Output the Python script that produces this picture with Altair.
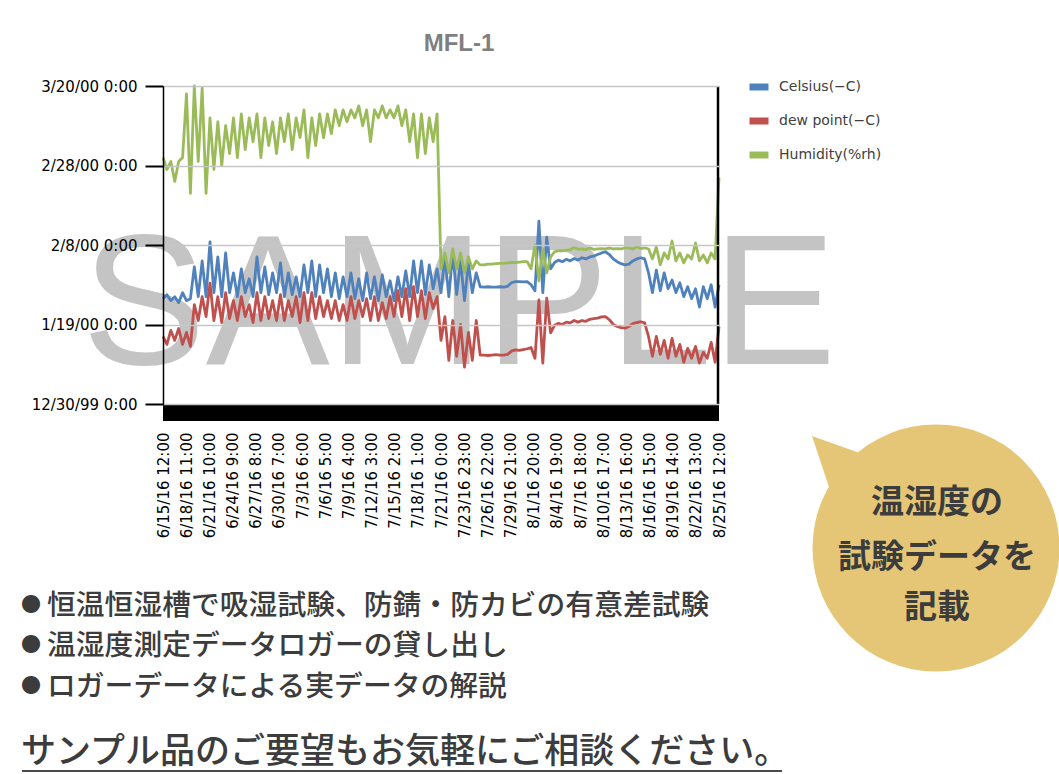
import altair as alt
import pandas as pd

# ---------------- data ----------------
x_labels = ["6/15/16 12:00", "6/18/16 11:00", "6/21/16 10:00", "6/24/16 9:00", "6/27/16 8:00",
            "6/30/16 7:00", "7/3/16 6:00", "7/6/16 5:00", "7/9/16 4:00", "7/12/16 3:00",
            "7/15/16 2:00", "7/18/16 1:00", "7/21/16 0:00", "7/23/16 23:00", "7/26/16 22:00",
            "7/29/16 21:00", "8/1/16 20:00", "8/4/16 19:00", "8/7/16 18:00", "8/10/16 17:00",
            "8/13/16 16:00", "8/16/16 15:00", "8/19/16 14:00", "8/22/16 13:00", "8/25/16 12:00"]
y_labels = ["12/30/99 0:00", "1/19/00 0:00", "2/8/00 0:00", "2/28/00 0:00", "3/20/00 0:00"]
y_ticks = [0, 20, 40, 60, 80]

series_names = ["Celsius(\u2212C)", "dew point(\u2212C)", "Humidity(%rh)"]
series_colors = ["#4f81bd", "#c0504d", "#9bbb59"]

# one reading every 12 hours from 6/15/16 12:00
celsius = [
    26.5, 27.5, 26, 27, 25.5, 28, 26, 26.5, 34.5, 27,
    36, 27, 40.8, 28, 37, 27, 38, 28, 33, 27,
    34, 28, 31.5, 27, 37, 28, 34.5, 27.5, 33, 28,
    35.5, 27, 33, 27.5, 32, 27, 35, 28, 36, 27,
    35, 28, 34, 27, 33, 26.5, 32, 27, 33, 26.5,
    31.5, 26, 33, 26.5, 32, 26, 32.5, 27, 31, 26,
    32, 27, 33.5, 27, 36, 28, 36, 27.5, 35, 29,
    34, 28, 37, 27, 38, 27.5, 36, 26, 35.5, 28,
    33, 29.5, 29.4, 29.5, 29.4, 29.4, 29.5, 29.4, 29.6, 30.5,
    30.8, 30.8, 30.7, 30.8, 30, 28.5, 46, 28, 42, 34,
    35.6, 36.2, 35.8, 36.4, 36.0, 36.6, 36.2, 36.8, 36.5, 37.0,
    37.2, 37.6, 38.0, 38.3, 37.6, 36.5, 35.8, 35.3, 35.0, 35.2,
    36.0, 36.5, 36.8, 36.5, 33, 28, 33.7, 28.5, 33, 29,
    31.2, 28, 30.5, 27, 29.5, 26.5, 29, 24.4, 29.5, 26.5,
    30, 24.4, 30,
]
dew_point = [
    17, 15, 18.5, 16, 19, 15, 18, 14.5, 25, 21,
    27, 22, 30.4, 21, 27, 20.5, 28, 21.5, 26, 21,
    27, 22, 25, 20.5, 28, 21, 27, 21.5, 26, 21,
    27.5, 21, 26, 22, 27, 20.5, 28, 21, 28, 21.5,
    27, 22, 26, 21.5, 26, 21, 25, 21, 27, 21.5,
    26, 22, 26.5, 21, 27, 21, 25.5, 21.5, 27, 22,
    28.5, 22, 29, 21, 29.5, 22, 28.5, 21.5, 28, 24,
    27, 16, 22, 11, 21, 12, 20, 9.3, 18, 11,
    21, 12.3, 12.3, 12.2, 12.3, 12.4, 12.3, 12.3, 12.5, 13.3,
    13.6, 13.5, 13.7, 13.9, 14.2, 11.5, 26.2, 10.3, 26.6, 17.9,
    19.8, 20.3, 20.0, 20.6, 20.4, 21.0, 20.6, 21.0, 20.8, 21.3,
    21.5, 21.6, 21.9, 22.0, 21.2, 20.0, 19.5, 19.2, 19.1, 19.5,
    20.2, 20.5, 20.7, 20.4, 17, 12, 17, 12.5, 16, 11.5,
    16.5, 12, 15, 10.5, 14, 11.5, 14.5, 10.3, 13, 11.5,
    15.5, 10.5, 19.5,
]
humidity = [
    62, 59, 61, 56, 61, 62, 78, 53, 80, 61,
    79.5, 53, 72, 59, 71, 60, 70, 63, 72, 62,
    73, 64, 72, 66, 73, 62, 72, 65, 71, 63,
    72, 66, 73, 64, 72, 67, 74, 62, 72, 65,
    73, 67, 73, 68, 74, 70, 74, 71, 74, 72,
    75, 70, 74, 66, 74, 72, 75, 72, 74, 72,
    75, 70, 74, 66, 73, 62, 73, 63, 72, 66,
    73, 34, 38, 33, 39, 34, 38, 33, 37, 34,
    36, 35, 35, 35.2, 35.2, 35.3, 35.4, 35.4, 35.5, 35.6,
    35.6, 35.7, 35.8, 35.8, 34, 40, 31, 39, 33, 37,
    38.3, 38.6, 38.5, 38.7, 38.8, 39.4, 38.9, 39.0, 38.8, 39.3,
    38.9, 39.0, 39.1, 39.0, 39.2, 39.0, 39.1, 39.0, 39.3, 39.2,
    39.0, 39.6, 39.1, 39.3, 39.0, 36.5, 39.5, 35, 38, 36.5,
    41, 36, 38, 35.5, 37.5, 36.5, 40.5, 36, 37.5, 35.5,
    38, 36.5, 57,
]

title_text = "MFL-1"
watermark_text = "SAMPLE"
bubble_lines = ["温湿度の", "試験データを", "記載"]
bullet_lines = ["恒温恒湿槽で吸湿試験、防錆・防カビの有意差試験",
                "温湿度測定データロガーの貸し出し",
                "ロガーデータによる実データの解説"]
footer_text = "サンプル品のご要望もお気軽にご相談ください。"

# ---------------- build table ----------------
rows = []
for name, vals in zip(series_names, [celsius, dew_point, humidity]):
    for i, v in enumerate(vals):
        rows.append({"day": i * 0.5, "value": v, "series": name})
df = pd.DataFrame(rows)

W, H = 556, 318
OX, OY = 163, 86  # plot origin on page
n_x = len(x_labels) - 1
x_ticks = [k * 71 / n_x for k in range(len(x_labels))]
x_expr = "[" + ",".join("'%s'" % s for s in x_labels) + "][round(datum.value*%d/71)]" % n_x
y_expr = "[" + ",".join("'%s'" % s for s in y_labels) + "][round(datum.value/20)]"

dummy = pd.DataFrame({"a": [1]})


def page_text(text, px, py, **kw):
    return alt.Chart(dummy).mark_text(text=text, **kw).encode(
        x=alt.value(px - OX), y=alt.value(py - OY))


watermark = page_text(watermark_text, 459, 364, font="Liberation Sans", fontSize=186,
                      color="#c4c4c4", baseline="alphabetic", align="center")

lines = alt.Chart(df).mark_line(strokeWidth=2.8, strokeJoin="round").encode(
    x=alt.X("day:Q", scale=alt.Scale(domain=[0, 71], nice=False, zero=False),
            axis=alt.Axis(values=x_ticks, labelExpr=x_expr, labelAngle=-90, title=None,
                          domain=False, ticks=False, tickSize=0, grid=False,
                          labelPadding=28, labelFont="DejaVu Sans", labelFontSize=15,
                          labelColor="#000000", labelOverlap=False, labelFlush=False)),
    y=alt.Y("value:Q", scale=alt.Scale(domain=[0, 80], nice=False),
            axis=alt.Axis(values=y_ticks, labelExpr=y_expr, title=None,
                          domainColor="#000000", domainWidth=1.5,
                          tickColor="#000000", tickWidth=2, tickSize=18,
                          labelPadding=8, labelFont="DejaVu Sans", labelFontSize=15,
                          labelColor="#000000", grid=True, gridColor="#c6c6c6",
                          gridWidth=1.5, zindex=1)),
    color=alt.Color("series:N", scale=alt.Scale(domain=series_names, range=series_colors),
                    legend=alt.Legend(title=None, orient="none", legendX=583, legendY=-12,
                                      direction="vertical", symbolType="stroke",
                                      symbolStrokeWidth=7, symbolSize=361,
                                      labelFont="DejaVu Sans", labelFontSize=14,
                                      labelColor="#404040", labelOffset=7,
                                      rowPadding=6, padding=0)),
)

band = alt.Chart(dummy).mark_rect(color="#000000").encode(
    x=alt.value(0), x2=alt.value(W), y=alt.value(H), y2=alt.value(H + 17))
right_border = alt.Chart(dummy).mark_rule(color="#000000", strokeWidth=2.5).encode(
    x=alt.value(W - 1), y=alt.value(0), y2=alt.value(H))

title = page_text(title_text, 459, 44, font="Liberation Sans", fontSize=24, fontWeight="bold",
                  color="#7f7f7f", baseline="middle", align="center")

bubble_color = "#e5c677"
circle = alt.Chart(dummy).mark_point(shape="circle", filled=True, size=247 ** 2,
                                     color=bubble_color, opacity=1, strokeWidth=0).encode(
    x=alt.value(936 - OX), y=alt.value(548 - OY))
tail = alt.Chart(dummy).mark_point(shape="M -0.8 -0.8 L 0.97 -0.17 L -0.2 1 Z", filled=True,
                                   size=3600, color=bubble_color, opacity=1, strokeWidth=0).encode(
    x=alt.value(836 - OX), y=alt.value(460 - OY))

bubble_layers = []
for t, yy in zip(bubble_lines, [503, 558, 608]):
    bubble_layers.append(page_text(t, 937, yy, font="Noto Sans CJK JP", fontSize=33,
                                   fontWeight="bold", color="#3c3c3c", baseline="middle",
                                   align="center"))

bullet_layers = []
for t, yy in zip(bullet_lines, [606, 646, 687]):
    bullet_layers.append(page_text("●", 21, yy, font="Noto Sans CJK JP", fontSize=20,
                                   color="#3c3c3c", baseline="middle", align="left"))
    bullet_layers.append(page_text(t, 47, yy, font="Noto Sans CJK JP", fontSize=28.8,
                                   fontWeight=500, color="#3c3c3c", baseline="middle",
                                   align="left"))

footer = page_text(footer_text, 21, 752, font="Noto Sans CJK JP", fontSize=35,
                   fontWeight=500, color="#3c3c3c", baseline="middle", align="left")
underline = alt.Chart(dummy).mark_rule(color="#4a4a4a", strokeWidth=2).encode(
    x=alt.value(22 - OX), x2=alt.value(782 - OX), y=alt.value(771 - OY))

chart = alt.layer(
    watermark, lines, band, right_border, title, tail, circle,
    *bubble_layers, *bullet_layers, footer, underline
).properties(
    width=W, height=H,
    autosize=alt.AutoSizeParams(type="none"),
    padding={"left": OX, "top": OY, "right": 1059 - OX - W, "bottom": 774 - OY - H},
    background="#ffffff",
).configure_view(stroke=None)

chart.save("out.html", embed_options={"renderer": "svg", "actions": False})
